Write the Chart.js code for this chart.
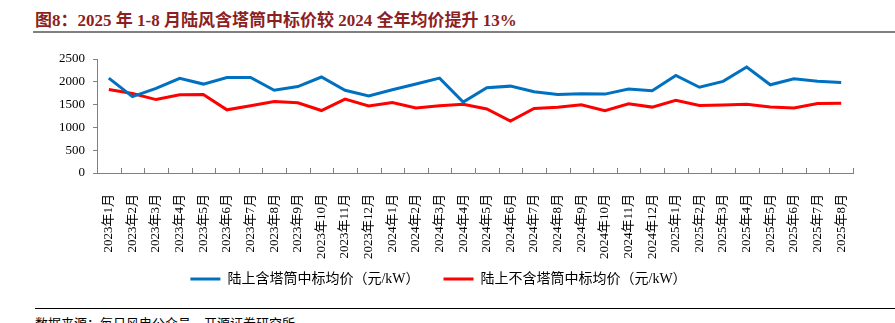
<!DOCTYPE html>
<html>
<head>
<meta charset="utf-8">
<script src="https://cdn.jsdelivr.net/npm/chart.js@4.4.0/dist/chart.umd.min.js"></script>
<style>
  body { margin:0; width:895px; height:323px; overflow:hidden; background:#fff; position:relative;
         font-family:'Liberation Serif','Noto Sans CJK SC',serif; }
  #titulo { position:absolute; left:35px; top:6px; font-size:17px; font-weight:bold; color:#8c1f1f; white-space:nowrap; }
  #regla1 { position:absolute; left:33px; right:0; top:31px; height:2px; background:#808080; }
  #regla2 { position:absolute; left:35px; right:0; top:308px; height:1px; background:#000; }
  #fuente { position:absolute; left:35px; top:313px; font-size:13px; color:#000; white-space:nowrap; }
  #caja { position:absolute; left:0; top:0; width:895px; height:305px; }
</style>
</head>
<body>
<div id="titulo">图8：2025 年 1-8 月陆风含塔筒中标价较 2024 全年均价提升 13%</div>
<div id="regla1"></div>
<div id="caja"><canvas id="grafica"></canvas></div>
<div id="regla2"></div>
<div id="fuente">数据来源：每日风电公众号、开源证券研究所</div>
<script>
// --- Datos ---
const meses = [
  "2023年1月","2023年2月","2023年3月","2023年4月","2023年5月","2023年6月","2023年7月","2023年8月",
  "2023年9月","2023年10月","2023年11月","2023年12月","2024年1月","2024年2月","2024年3月","2024年4月",
  "2024年5月","2024年6月","2024年7月","2024年8月","2024年9月","2024年10月","2024年11月","2024年12月",
  "2025年1月","2025年2月","2025年3月","2025年4月","2025年5月","2025年6月","2025年7月","2025年8月"
];
// 元/kW
const conTorre = [2080,1675,1855,2075,1950,2095,2095,1815,1895,2105,1815,1690,1825,1950,2080,1555,
                  1870,1905,1780,1720,1740,1730,1840,1805,2140,1880,2010,2325,1935,2065,2010,1985];
const sinTorre = [1830,1745,1610,1715,1720,1385,1475,1570,1540,1370,1620,1470,1545,1425,1475,1505,
                  1405,1140,1415,1440,1495,1365,1520,1445,1595,1480,1490,1505,1450,1425,1525,1530];
const yMin = 0, yMax = 2500, yPaso = 500;

const fuente = "'Liberation Serif','Noto Sans CJK SC',serif";
const gris = '#808080';

// marcas del eje X hacia dentro, en los bordes de cada categoría
const marcasX = {
  id: 'marcasX',
  beforeDraw(chart) {
    // las etiquetas largas (2023年10月...) bajan más que la caja del eje; no recortarlas
    chart.scales.x.bottom = chart.height;
  },
  afterDraw(chart) {
    const sx = chart.scales.x, ctx = chart.ctx, y0 = chart.chartArea.bottom;
    ctx.save();
    ctx.strokeStyle = gris;
    ctx.lineWidth = 1;
    for (let i = 0; i <= meses.length; i++) {
      const px = Math.round(sx.getPixelForValue(i - 0.5)) + 0.5;
      ctx.beginPath();
      ctx.moveTo(px, y0);
      ctx.lineTo(px, y0 - 5);
      ctx.stroke();
    }
    ctx.restore();
  }
};

new Chart(document.getElementById('grafica'), {
  type: 'line',
  data: {
    labels: meses,
    datasets: [
      { label: '陆上含塔筒中标均价（元/kW）', data: conTorre, borderColor: '#0070C0', backgroundColor: '#0070C0',
        borderWidth: 3, pointRadius: 0, tension: 0, fill: false },
      { label: '陆上不含塔筒中标均价（元/kW）', data: sinTorre, borderColor: '#FF0000', backgroundColor: '#FF0000',
        borderWidth: 3, pointRadius: 0, tension: 0, fill: false }
    ]
  },
  options: {
    responsive: true,
    maintainAspectRatio: false,
    animation: false,
    layout: { padding: { left: 24, right: 42, top: 59, bottom: 9 } },
    plugins: {
      tooltip: { enabled: false },
      legend: {
        position: 'bottom',
        labels: {
          usePointStyle: true, pointStyle: 'line', pointStyleWidth: 30,
          color: '#000', padding: 24, font: { family: fuente, size: 14 }
        }
      }
    },
    scales: {
      x: {
        offset: true,
        afterFit: s => { s.height = 75; },
        grid: { display: false },
        border: { display: true, color: gris, width: 1 },
        ticks: { autoSkip: false, minRotation: 90, maxRotation: 90, padding: 13,
                 color: '#000', font: { family: fuente, size: 13 } }
      },
      y: {
        min: yMin, max: yMax,
        afterFit: s => { s.width = 73; },
        grid: { drawOnChartArea: false, drawTicks: true, tickLength: 4, color: gris },
        border: { display: true, color: gris, width: 1 },
        ticks: { stepSize: yPaso, autoSkip: false, padding: 8, color: '#000',
                 font: { family: fuente, size: 13 }, callback: v => String(v) }
      }
    }
  },
  plugins: [marcasX]
});
</script>
</body>
</html>
